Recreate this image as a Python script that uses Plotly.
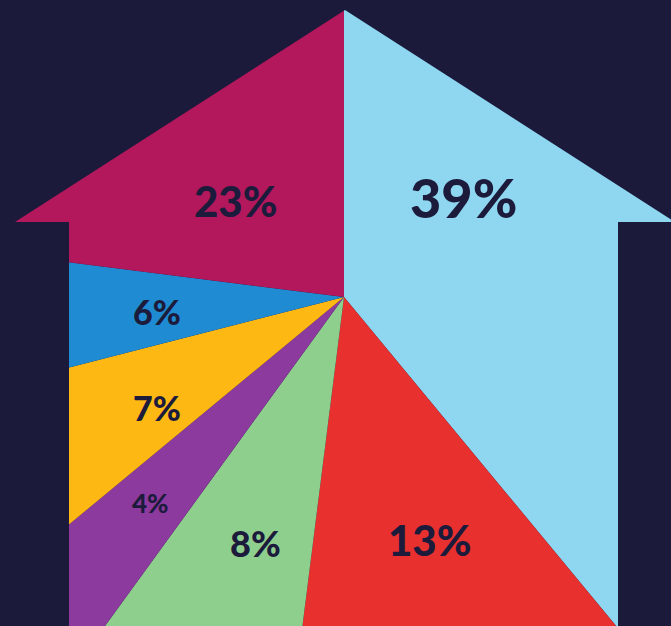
import numpy as np
import plotly.graph_objects as go

# ---- data ----
labels = ["A", "B", "C", "D", "E", "F", "G"]
values = [39, 13, 8, 4, 7, 6, 23]          # clockwise from 12 o'clock
colors = ["#8fd6f1", "#e8302e", "#8fcf8e", "#8c3a9e", "#fdb814", "#1f8bd2", "#b2185b"]
label_pos = [(463, 197), (429, 540), (255, 543), (150, 503), (157, 407), (157, 311), (235, 201)]
label_size = [54, 42, 36, 26, 34, 34, 42]

BG = "#1b1a3b"
TXT = "#1c1b3c"
W, H = 671, 626
cx, cy = 344, 297
house = [(345, 10), (675, 222), (618, 222), (618, 640), (69, 640), (69, 222), (15, 222)]

fig = go.Figure()
total = sum(values)
start = 0.0
R = 1200
for lab, v, c in zip(labels, values, colors):
    end = start + v / total * 360
    th = np.radians(np.linspace(start, end, 60))
    xs = [cx] + list(cx + R * np.sin(th)) + [cx]
    ys = [cy] + list(cy - R * np.cos(th)) + [cy]
    fig.add_trace(go.Scatter(x=xs, y=ys, fill="toself", fillcolor=c, mode="lines",
                             line=dict(width=0, color=c), name=lab, hoverinfo="skip"))
    start = end

# mask outside the house
outer = "M -50,-50 L 730,-50 L 730,700 L -50,700 Z "
inner = "M " + " L ".join(f"{x},{y}" for x, y in house) + " Z"
fig.add_shape(type="path", path=outer + inner, xref="x", yref="y", fillcolor=BG,
              line=dict(width=0), layer="above", fillrule="evenodd")

for v, (x, y), s in zip(values, label_pos, label_size):
    fig.add_annotation(x=x, y=y, xref="x", yref="y", text=f"{v}%", showarrow=False,
                       font=dict(family="Lato", size=s, color=TXT, weight=900))

fig.update_layout(width=W, height=H, margin=dict(l=0, r=0, t=0, b=0),
                  paper_bgcolor=BG, plot_bgcolor=BG, showlegend=False,
                  xaxis=dict(range=[0, W], visible=False, fixedrange=True),
                  yaxis=dict(range=[H, 0], visible=False, fixedrange=True))
fig.write_html("out.html")
